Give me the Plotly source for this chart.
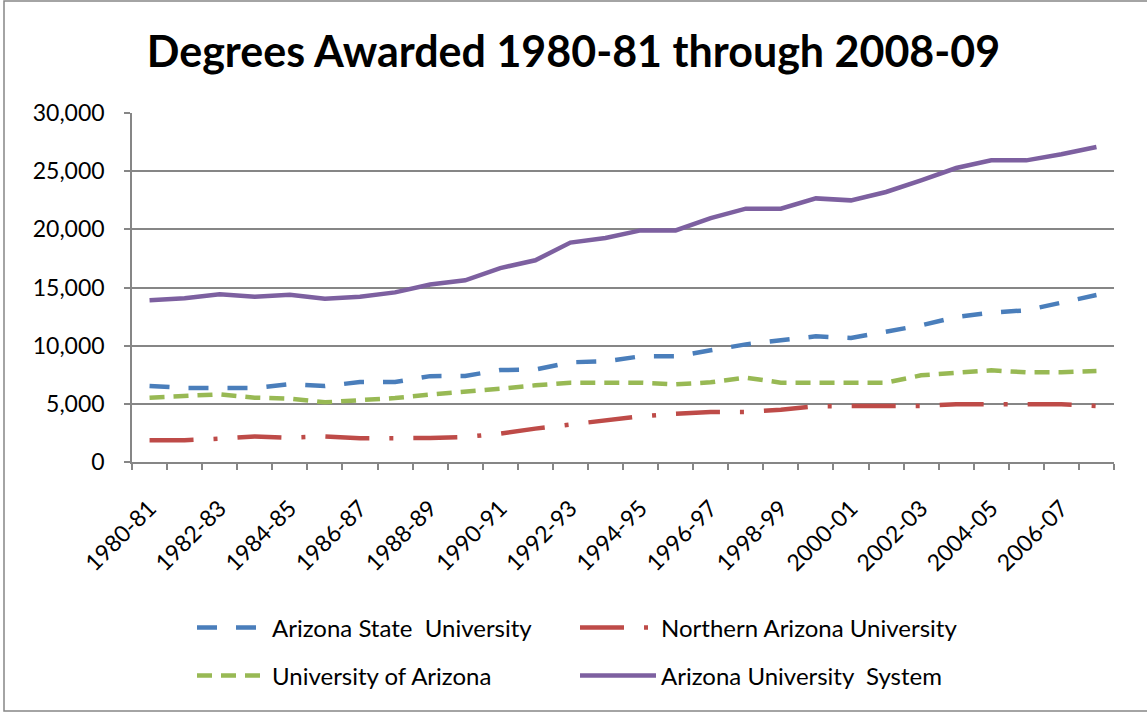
import plotly.graph_objects as go

years = ["1980-81", "1981-82", "1982-83", "1983-84", "1984-85", "1985-86", "1986-87",
         "1987-88", "1988-89", "1989-90", "1990-91", "1991-92", "1992-93", "1993-94",
         "1994-95", "1995-96", "1996-97", "1997-98", "1998-99", "1999-00", "2000-01",
         "2001-02", "2002-03", "2003-04", "2004-05", "2005-06", "2006-07", "2007-08"]

asu = [6530, 6370, 6360, 6360, 6700, 6530, 6870, 6880, 7380, 7400, 7900, 7940,
       8570, 8660, 9080, 9080, 9600, 10110, 10460, 10800, 10660, 11170, 11750,
       12460, 12840, 13040, 13700, 14350]
nau = [1870, 1870, 2010, 2200, 2090, 2200, 2040, 2010, 2060, 2150, 2440, 2870,
       3210, 3580, 3930, 4150, 4300, 4300, 4500, 4800, 4800, 4800, 4810, 4960,
       4960, 4960, 4960, 4820]
ua = [5530, 5670, 5820, 5530, 5440, 5130, 5300, 5500, 5800, 6020, 6300, 6590,
      6820, 6820, 6820, 6680, 6850, 7250, 6820, 6820, 6820, 6820, 7450, 7650,
      7880, 7710, 7710, 7820]
system = [13900, 14070, 14410, 14210, 14380, 14040, 14210, 14580, 15260, 15620,
          16670, 17340, 18860, 19260, 19910, 19910, 20970, 21780, 21780, 22660,
          22490, 23210, 24210, 25270, 25930, 25930, 26450, 27080]

series_names = ["Arizona State  University", "Northern Arizona University",
                "University of Arizona", "Arizona University  System"]
series_vals = [asu, nau, ua, system]
colors = ["#4A7EBB", "#BE4B48", "#98B954", "#7D60A0"]
dashes = ["20px,19px", "44px,20px,4px,20px", "15px,9px", "solid"]
legend_ids = ["legend", "legend2", "legend3", "legend4"]

FONT = "Lato, 'Open Sans', sans-serif"

fig = go.Figure()
for name, vals, col, dsh, lg in zip(series_names, series_vals, colors, dashes, legend_ids):
    fig.add_trace(go.Scatter(
        x=years, y=vals, name=name, mode="lines",
        line=dict(color=col, width=4.5, dash=dsh),
        legend=lg, showlegend=True,
    ))

ticktext = [y if i % 2 == 0 else "" for i, y in enumerate(years)]

L, R, T, B = 132, 33, 113, 251
W, H = 1147, 713
pw, ph = W - L - R, H - T - B

def px_x(x):
    return (x - L) / pw

def px_y(y):
    return (H - B - y) / ph

def legend_style(item_w):
    return dict(orientation="h", xanchor="left", yanchor="middle",
                font=dict(family=FONT, size=24, color="#000000"),
                bgcolor="rgba(0,0,0,0)", itemwidth=item_w, borderwidth=0)

fig.update_layout(
    width=W, height=H,
    margin=dict(l=L, r=R, t=T, b=B),
    paper_bgcolor="white", plot_bgcolor="white",
    showlegend=True,
    font=dict(family=FONT, size=23, color="#000000"),
    title=dict(text="<b>Degrees Awarded 1980-81 through 2008-09</b>",
               x=0.5, xanchor="center", y=1 - 52 / H, yanchor="middle",
               font=dict(family=FONT, size=43, color="#000000")),
    xaxis=dict(type="category", tickmode="array", tickvals=years, ticktext=ticktext,
               tickangle=-45, tickson="boundaries", ticks="outside", ticklen=6,
               tickcolor="#868686", tickwidth=1.5, showline=True, linecolor="#868686",
               linewidth=1.5, showgrid=False, range=[-0.5, len(years) - 0.5],
               ticklabelstandoff=22,
               tickfont=dict(family=FONT, size=23)),
    yaxis=dict(range=[0, 30000], dtick=5000, tickformat=",", ticks="outside",
               ticklen=6, tickcolor="#868686", tickwidth=1.5, showline=True,
               linecolor="#868686", linewidth=1.5, showgrid=True,
               gridcolor="#868686", gridwidth=1.5, zeroline=False,
               ticklabelstandoff=15,
               tickfont=dict(family=FONT, size=23)),
    legend=dict(x=px_x(192), y=px_y(628), **legend_style(70)),
    legend2=dict(x=px_x(575), y=px_y(628), **legend_style(76)),
    legend3=dict(x=px_x(192), y=px_y(676), **legend_style(70)),
    legend4=dict(x=px_x(575), y=px_y(676), **legend_style(76)),
    shapes=[dict(type="rect", xref="paper", yref="paper",
                 x0=px_x(4), x1=px_x(1160), y0=px_y(711), y1=px_y(1),
                 line=dict(color="#868686", width=1.5), layer="below")],
)

fig.write_html("out.html", config={"displayModeBar": False},
               post_script="document.body.style.margin='0';document.body.style.overflow='hidden';")
